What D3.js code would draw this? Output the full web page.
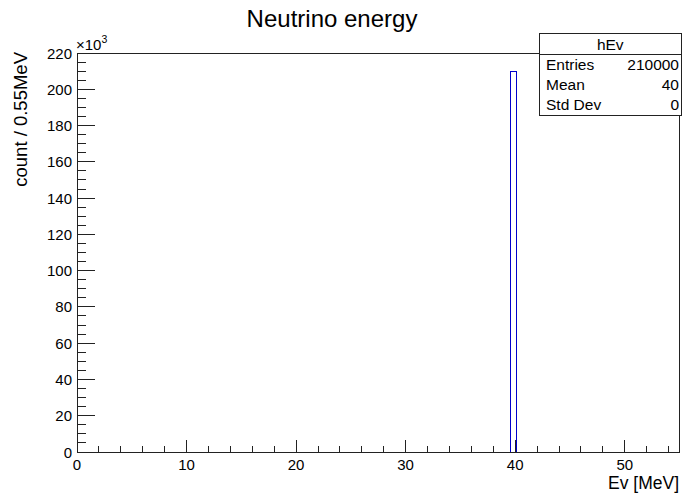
<!DOCTYPE html>
<html>
<head>
<meta charset="utf-8">
<script src="https://cdn.jsdelivr.net/npm/d3@7"></script>
<style>
  html, body { margin: 0; padding: 0; background: #fff; }
  svg { display: block; }
  text { font-family: "Liberation Sans", Arial, Helvetica, sans-serif; fill: #000; }
  .tick { stroke: #222; stroke-width: 1; shape-rendering: crispEdges; }
</style>
</head>
<body>
<svg id="chart" width="682" height="500"></svg>
<script>
// Histogram hEv: 100 bins of 0.55 MeV over [0, 55]; only one bin is filled
const binWidth = 0.55;
const binLowEdges = [39.6];
const binCounts = [210000];

const xTicksMajor = [0, 10, 20, 30, 40, 50];
const yTicksMajor = [0, 20000, 40000, 60000, 80000, 100000, 120000, 140000, 160000, 180000, 200000, 220000];

const statsNames = ["Entries", "Mean", "Std Dev"];
const statsValues = ["210000", "40", "0"];

const titleText = "Neutrino energy";
const xTitle = "Ev [MeV]";
const yTitle = "count / 0.55MeV";
const histName = "hEv";

const frame = { left: 77, right: 679.5, top: 53, bottom: 452 };

const svg = d3.select("#chart");

const x = d3.scaleLinear().domain([0, 55]).range([frame.left, frame.right]);
const y = d3.scaleLinear().domain([0, 220000]).range([frame.bottom, frame.top]);

// Frame
svg.append("rect")
  .attr("x", frame.left).attr("y", frame.top)
  .attr("width", frame.right - frame.left).attr("height", frame.bottom - frame.top)
  .attr("fill", "none").attr("stroke", "#222").attr("stroke-width", 1)
  .attr("shape-rendering", "crispEdges");

// Histogram outline (step line)
const hist = binLowEdges.map((lo, i) => ({ lo, hi: lo + binWidth, n: binCounts[i] }));
const step = d3.path();
hist.forEach(b => {
  step.moveTo(x(b.lo), y(0));
  step.lineTo(x(b.lo), y(b.n));
  step.lineTo(x(b.hi), y(b.n));
  step.lineTo(x(b.hi), y(0));
});
svg.append("path").attr("d", step.toString())
  .attr("fill", "none").attr("stroke", "#0000cc").attr("stroke-width", 1)
  .attr("shape-rendering", "crispEdges");

// X axis ticks (drawn upward into the frame)
const xMinor = d3.range(0, 55.001, 2);
const xAxis = svg.append("g");
xAxis.selectAll("line.xminor").data(xMinor).join("line")
  .attr("class", "tick xminor")
  .attr("x1", d => x(d)).attr("x2", d => x(d))
  .attr("y1", frame.bottom).attr("y2", frame.bottom - 6);
xAxis.selectAll("line.xmajor").data(xTicksMajor).join("line")
  .attr("class", "tick xmajor")
  .attr("x1", d => x(d)).attr("x2", d => x(d))
  .attr("y1", frame.bottom).attr("y2", frame.bottom - 12);
xAxis.selectAll("text.xlab").data(xTicksMajor).join("text")
  .attr("class", "xlab")
  .attr("x", d => x(d)).attr("y", 469.5)
  .attr("text-anchor", "middle").attr("font-size", 15)
  .text(d => d);

// Y axis ticks (drawn rightward into the frame)
const yMinor = d3.range(0, 220001, 5000);
const yAxis = svg.append("g");
yAxis.selectAll("line.yminor").data(yMinor).join("line")
  .attr("class", "tick yminor")
  .attr("x1", frame.left).attr("x2", frame.left + 9)
  .attr("y1", d => y(d)).attr("y2", d => y(d));
yAxis.selectAll("line.ymajor").data(yTicksMajor).join("line")
  .attr("class", "tick ymajor")
  .attr("x1", frame.left).attr("x2", frame.left + 18)
  .attr("y1", d => y(d)).attr("y2", d => y(d));
yAxis.selectAll("text.ylab").data(yTicksMajor).join("text")
  .attr("class", "ylab")
  .attr("x", 72).attr("y", d => y(d) + 5.5)
  .attr("text-anchor", "end").attr("font-size", 15)
  .text(d => d / 1000);

// Exponent label
const expo = svg.append("text").attr("x", 76).attr("y", 50).attr("font-size", 15);
expo.append("tspan").text("\u00d710");
expo.append("tspan").attr("font-size", 10.5).attr("dy", -7).text("3");

// Axis titles
svg.append("text").attr("x", 679).attr("y", 489)
  .attr("text-anchor", "end").attr("font-size", 17.5).text(xTitle);
svg.append("text")
  .attr("transform", "translate(27,52) rotate(-90)")
  .attr("text-anchor", "end").attr("font-size", 18.5).text(yTitle);

// Title
svg.append("text").attr("x", 332).attr("y", 27)
  .attr("text-anchor", "middle").attr("font-size", 24).text(titleText);

// Statistics box
const box = { left: 539.5, right: 681, top: 33.5, header: 54, bottom: 115 };
const sb = svg.append("g");
sb.append("rect")
  .attr("x", box.left).attr("y", box.top)
  .attr("width", box.right - box.left).attr("height", box.bottom - box.top)
  .attr("fill", "#fff").attr("stroke", "#222").attr("shape-rendering", "crispEdges");
sb.append("line")
  .attr("x1", box.left).attr("x2", box.right)
  .attr("y1", box.header).attr("y2", box.header)
  .attr("stroke", "#222").attr("shape-rendering", "crispEdges");
sb.append("text").attr("x", (box.left + box.right) / 2).attr("y", 50)
  .attr("text-anchor", "middle").attr("font-size", 15.5).text(histName);
const rowH = (box.bottom - box.header) / statsNames.length;
sb.selectAll("text.name").data(statsNames).join("text")
  .attr("class", "name")
  .attr("x", 546).attr("y", (d, i) => box.header + rowH * (i + 0.5) + 5.5)
  .attr("font-size", 15.5).text(d => d);
sb.selectAll("text.val").data(statsValues).join("text")
  .attr("class", "val")
  .attr("x", 679).attr("y", (d, i) => box.header + rowH * (i + 0.5) + 5.5)
  .attr("text-anchor", "end").attr("font-size", 15.5).text(d => d);
</script>
</body>
</html>
